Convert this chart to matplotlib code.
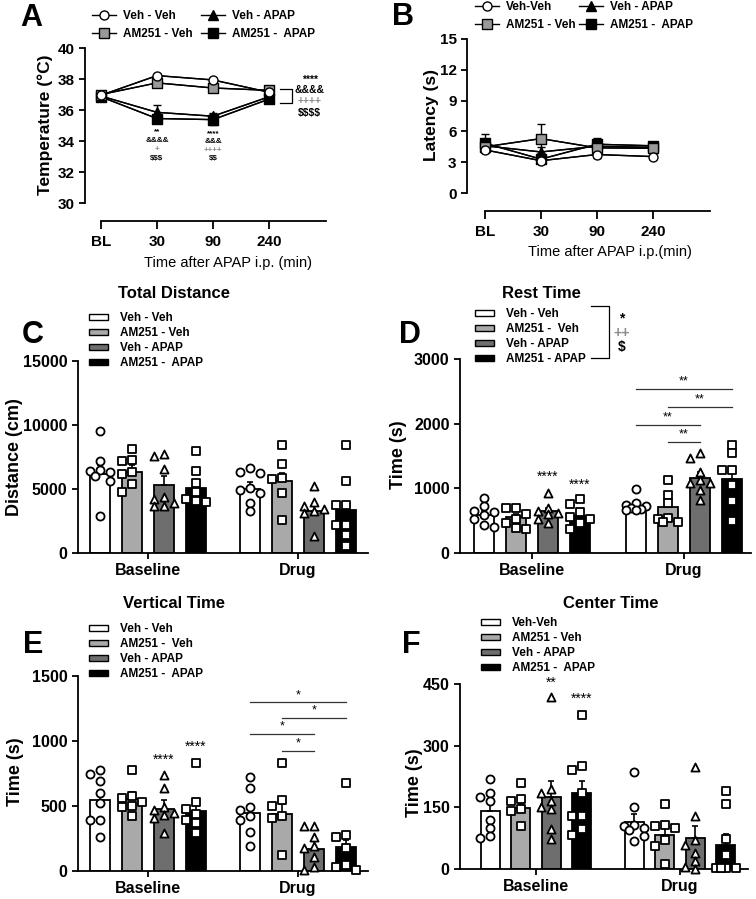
import matplotlib
matplotlib.use('Agg')
import matplotlib.pyplot as plt
import numpy as np
from matplotlib.patches import Patch
from matplotlib.lines import Line2D

plt.rcParams['font.family'] = ['Liberation Sans', 'DejaVu Sans']
plt.rcParams['font.weight'] = 'bold'
plt.rcParams['axes.linewidth'] = 1.3
plt.rcParams['xtick.major.width'] = 1.3
plt.rcParams['ytick.major.width'] = 1.3
plt.rcParams['text.parse_math'] = False

# ---------------- data ----------------
time_labels = ['BL', '30', '90', '240']
line_groups = ['Veh - Veh', 'AM251 - Veh', 'Veh - APAP', 'AM251 -  APAP']
line_groups_b = ['Veh-Veh', 'AM251 - Veh', 'Veh - APAP', 'AM251 -  APAP']

temp_vv = [36.95, 38.22, 37.94, 37.15]
temp_av = [37.00, 37.75, 37.42, 37.27]
temp_va = [36.90, 35.85, 35.60, 36.85]
temp_aa = [36.85, 35.45, 35.38, 36.70]
temp_sem_vv = [0.10, 0.10, 0.15, 0.10]
temp_sem_av = [0.10, 0.10, 0.10, 0.10]
temp_sem_va = [0.15, 0.45, 0.20, 0.15]
temp_sem_aa = [0.15, 0.20, 0.35, 0.15]

lat_vv = [4.2, 3.15, 3.75, 3.55]
lat_av = [4.5, 5.3, 4.4, 4.35]
lat_va = [4.6, 4.0, 4.55, 4.45]
lat_aa = [4.85, 3.3, 4.75, 4.6]
lat_sem_vv = [0.3, 0.2, 0.3, 0.2]
lat_sem_av = [0.3, 1.4, 0.3, 0.3]
lat_sem_va = [0.3, 0.5, 0.3, 0.3]
lat_sem_aa = [0.9, 0.3, 0.6, 0.3]

phase_labels = ['Baseline', 'Drug']
bar_groups_c = ['Veh - Veh', 'AM251 - Veh', 'Veh - APAP', 'AM251 -  APAP']
bar_groups_d = ['Veh - Veh', 'AM251 -  Veh', 'Veh - APAP', 'AM251 - APAP']
bar_groups_e = ['Veh - Veh', 'AM251 -  Veh', 'Veh - APAP', 'AM251 -  APAP']
bar_groups_f = ['Veh-Veh', 'AM251 - Veh', 'Veh - APAP', 'AM251 -  APAP']

# C: total distance (cm)
dist_mean_base = [6200, 6350, 5330, 5070]
dist_sem_base = [650, 490, 650, 500]
dist_mean_drug = [5020, 5590, 3250, 3380]
dist_sem_drug = [490, 650, 390, 520]
dist_pts_base = [[9500, 7200, 6500, 6400, 6300, 6000, 5600, 2900],
                 [8100, 7300, 7200, 6300, 6200, 5400, 4800],
                 [7700, 7600, 6600, 4400, 4200, 3900, 3700, 3700],
                 [8000, 6400, 5500, 4800, 4200, 4100, 4000]]
dist_pts_drug = [[6630, 6290, 6250, 5070, 4940, 4680, 3900, 3250],
                 [8400, 6970, 5850, 5800, 4680, 2600],
                 [5200, 4000, 3700, 3400, 3300, 3100, 1300],
                 [8450, 5590, 3770, 3770, 2210, 2210, 1430, 520]]

# D: rest time (s)
rest_mean_base = [592, 560, 643, 576]
rest_sem_base = [55, 50, 55, 55]
rest_mean_drug = [720, 710, 1158, 1148]
rest_sem_drug = [52, 90, 90, 140]
rest_pts_base = [[850, 720, 650, 640, 580, 520, 430, 400],
                 [700, 690, 600, 520, 470, 380, 370],
                 [930, 700, 650, 620, 600, 520, 460],
                 [830, 760, 630, 560, 520, 460, 370]]
rest_pts_drug = [[990, 780, 740, 720, 700, 680, 670, 660],
                 [1130, 900, 770, 540, 520, 480, 480],
                 [1540, 1470, 1260, 1130, 1080, 1080, 980, 820],
                 [1670, 1540, 1290, 1280, 1050, 800, 490]]
rest_sig = [(0, 3, 2542, '**'), (1, 3, 2265, '**'), (0, 2, 1981, '**'), (1, 2, 1714, '**')]

# E: vertical time (s)
vert_mean_base = [545, 552, 480, 460]
vert_sem_base = [70, 57, 65, 50]
vert_mean_drug = [447, 437, 172, 185]
vert_sem_drug = [64, 82, 64, 55]
vert_pts_base = [[780, 750, 690, 600, 520, 390, 390, 260],
                 [780, 580, 560, 530, 500, 490, 420],
                 [740, 640, 490, 470, 450, 430, 410, 290],
                 [830, 530, 480, 440, 390, 370, 290]]
vert_pts_drug = [[720, 640, 490, 470, 420, 390, 300, 190],
                 [830, 550, 500, 420, 410, 120],
                 [350, 350, 260, 190, 180, 110, 30, 10],
                 [680, 280, 260, 180, 50, 30, 10]]
vert_sig = [(0, 3, 1297, '*'), (1, 3, 1179, '*'), (0, 2, 1056, '*'), (1, 2, 922, '*')]

# F: center time (s)
cent_mean_base = [140, 148, 176, 184]
cent_sem_base = [20, 10, 37, 30]
cent_mean_drug = [114, 83, 75, 59]
cent_sem_drug = [20, 23, 29, 25]
cent_pts_base = [[220, 185, 175, 165, 120, 100, 80, 75],
                 [210, 170, 165, 145, 140, 105],
                 [418, 195, 185, 165, 150, 145, 97, 73],
                 [375, 250, 240, 185, 130, 130, 97, 83]]
cent_pts_drug = [[237, 152, 108, 104, 100, 95, 80, 67],
                 [158, 108, 105, 100, 70, 55, 11],
                 [247, 129, 70, 59, 40, 20, 5, 0],
                 [190, 158, 73, 35, 3, 3, 3, 2]]

# ---------------- styling ----------------
W, H = 756, 899
fig = plt.figure(figsize=(W / 100, H / 100), dpi=100)

def add_ax(l, t, r, b):
    return fig.add_axes([l / W, 1 - b / H, (r - l) / W, (b - t) / H])

def fx(px):
    return px / W

def fy(py):
    return 1 - py / H

def ax_frac(ax, px, py):
    bb = ax.get_position()
    return ((fx(px) - bb.x0) / bb.width, (fy(py) - bb.y0) / bb.height)

bar_colors = ['white', '#a9a9a9', '#6e6e6e', 'black']
pt_markers = ['o', 's', '^', 's']
line_colors = ['white', '#999999', 'black', 'black']
line_markers = ['o', 's', '^', 's']
plus_gray = '#8a8a8a'

def panel_letter(x, y, s):
    fig.text(fx(x), fy(y), s, fontsize=22, fontweight='bold', ha='center', va='center')

def style_axes(ax, lsize):
    for s in ['top', 'right']:
        ax.spines[s].set_visible(False)
    ax.tick_params(axis='both', direction='out', length=4, labelsize=lsize)

# ---------------- line panels ----------------
def line_panel(box, series, sems, ylim, ybounds, yticks, xlim, ylabel, ylabel_xy,
               xlabel, xlabel_xy, labels, leg_xy, colspace):
    ax = add_ax(*box)
    style_axes(ax, 11)
    x = np.arange(len(time_labels))
    handles = []
    for k in range(4):
        ax.errorbar(x, series[k], yerr=sems[k], color='black', lw=1.0, capsize=3,
                    elinewidth=1.0, capthick=1.0, zorder=2 + k, marker=None)
        ax.plot(x, series[k], color='black', lw=1.0, zorder=2 + k)
        ax.scatter(x, series[k], marker=line_markers[k], s=42 if line_markers[k] != '^' else 50,
                   facecolor=line_colors[k], edgecolor='black', linewidths=1.0, zorder=10 - k)
        handles.append(Line2D([0], [0], color='black', lw=1.0, marker=line_markers[k],
                              markerfacecolor=line_colors[k], markeredgecolor='black',
                              markersize=6.5))
    ax.set_xlim(*xlim)
    ax.set_ylim(*ylim)
    ax.spines['left'].set_bounds(*ybounds)
    ax.spines['bottom'].set_bounds(0, xlim[1])
    ax.set_yticks(yticks)
    ax.set_xticks(x)
    ax.set_xticklabels(time_labels, fontsize=11)
    ax.tick_params(axis='x', length=6, pad=4)
    for t in ax.get_yticklabels():
        t.set_fontweight('bold')
    ax.set_ylabel(ylabel, fontsize=12.5, fontweight='bold')
    ax.yaxis.set_label_coords(*ax_frac(ax, *ylabel_xy))
    ax.set_xlabel(xlabel, fontsize=10.5, fontweight='normal')
    ax.xaxis.set_label_coords(*ax_frac(ax, *xlabel_xy))
    ax.legend(handles, labels, ncol=2, loc='upper left', frameon=False,
              bbox_to_anchor=(fx(leg_xy[0]), fy(leg_xy[1])), bbox_transform=fig.transFigure,
              fontsize=8.5, handlelength=2.0, handletextpad=0.6, columnspacing=colspace,
              labelspacing=0.55, borderpad=0, borderaxespad=0)
    return ax

axA = line_panel((85, 48, 326, 221), [temp_vv, temp_av, temp_va, temp_aa],
                 [temp_sem_vv, temp_sem_av, temp_sem_va, temp_sem_aa],
                 (28.84, 40), (30, 40), [30, 32, 34, 36, 38, 40], (-0.286, 4.02),
                 'Temperature (°C)', (53, 125), 'Time after APAP i.p. (min)', (228, 256),
                 line_groups, (92, 10), 0.75)
panel_letter(31, 18, 'A')

# annotations on A
bx0, bx1 = 3.2, 3.41
axA.plot([bx0, bx1, bx1, bx0], [37.35, 37.35, 36.45, 36.45], color='black', lw=0.9, clip_on=False)
a_right = [('****', 37.94, 'black'), ('&&&&', 37.29, 'black'), ('++++', 36.58, plus_gray), ('$$$$', 35.8, 'black')]
for s, yv, c in a_right:
    axA.text(3.73, yv, s, ha='center', va='center', fontsize=7.5, color=c, fontweight='bold')
a_30 = [('**', 34.58, 'black'), ('&&&&', 34.06, 'black'), ('+', 33.48, plus_gray), ('$$$', 32.9, 'black')]
a_90 = [('****', 34.45, 'black'), ('&&&', 33.94, 'black'), ('++++', 33.38, plus_gray), ('$$', 32.84, 'black')]
for lst, xv in [(a_30, 1), (a_90, 2)]:
    for s, yv, c in lst:
        axA.text(xv, yv, s, ha='center', va='center', fontsize=5.9, color=c, fontweight='bold')

axB = line_panel((467, 39, 710, 211), [lat_vv, lat_av, lat_va, lat_aa],
                 [lat_sem_vv, lat_sem_av, lat_sem_va, lat_sem_aa],
                 (-1.75, 15), (0, 15), [0, 3, 6, 9, 12, 15], (-0.32, 4.02),
                 'Latency (s)', (439, 115), 'Time after APAP i.p.(min)', (610, 245),
                 line_groups_b, (475, 1), 0.35)
panel_letter(403, 17, 'B')

# ---------------- bar panels ----------------
offs = [-1.5, -0.5, 0.5, 1.5]

def swarm_offsets(vals, ax, diam_px=9.0, max_px=10.0):
    """GraphPad-like placement: keep points centred, shift sideways only when they collide."""
    bb = ax.get_position()
    x0, x1 = ax.get_xlim()
    y0, y1 = ax.get_ylim()
    pxx = bb.width * W / (x1 - x0)
    pxy = bb.height * H / (y1 - y0)
    order = np.argsort(vals)[::-1]
    placed = []
    res = np.zeros(len(vals))
    cands = [0.0, -max_px, max_px, -max_px / 2, max_px / 2]
    for i in order:
        yp = vals[i] * pxy
        best, best_d = 0.0, -1.0
        for c in cands:
            d = min([np.hypot(c - a, yp - b) for a, b in placed] + [1e9])
            if d >= diam_px * 0.9:
                best = c
                break
            if d > best_d:
                best, best_d = c, d
        placed.append((best, yp))
        res[i] = best / pxx
    return res

def bar_panel(box, drug_c, xlim, ylim, yticks, means, sems, pts, labels, title, title_xy,
              ylabel, ylabel_xy, leg_xy, sig=None, tops=None):
    ax = add_ax(*box)
    style_axes(ax, 11.5)
    ax.set_xlim(*xlim)
    ax.set_ylim(*ylim)
    centers = [0, drug_c]
    for gi in range(2):
        for k in range(4):
            xc = centers[gi] + offs[k]
            ax.bar(xc, means[gi][k], width=0.62, color=bar_colors[k], edgecolor='black',
                   linewidth=1.3, zorder=2)
            ax.errorbar(xc, means[gi][k], yerr=[[0], [sems[gi][k]]], color='black', capsize=2.5,
                        elinewidth=1.2, capthick=1.2, zorder=3)
            p = np.array(pts[gi][k], dtype=float)
            xs = xc + swarm_offsets(p, ax)
            ax.scatter(xs, p, marker=pt_markers[k], s=34, facecolor='white', edgecolor='black',
                       linewidths=1.3, zorder=4, clip_on=False)
    ax.set_yticks(yticks)
    ax.set_xticks(centers)
    ax.set_xticklabels(phase_labels, fontsize=11.5)
    for t in ax.get_yticklabels():
        t.set_fontweight('bold')
    ax.set_ylabel(ylabel, fontsize=13, fontweight='bold')
    ax.yaxis.set_label_coords(*ax_frac(ax, *ylabel_xy))
    fig.text(fx(title_xy[0]), fy(title_xy[1]), title, ha='center', va='center', fontsize=12,
             fontweight='bold')
    handles = [Patch(facecolor=bar_colors[k], edgecolor='black', linewidth=1.0) for k in range(4)]
    ax.legend(handles, labels, loc='upper left', frameon=False,
              bbox_to_anchor=(fx(leg_xy[0]), fy(leg_xy[1])), bbox_transform=fig.transFigure,
              fontsize=8.5, handlelength=1.6, handleheight=0.42, handletextpad=1.0,
              labelspacing=0.25, borderpad=0, borderaxespad=0)
    if sig:
        for a, b, yv, s in sig:
            x0 = drug_c + offs[a]
            x1 = drug_c + offs[b]
            ax.plot([x0, x1], [yv, yv], color='#333333', lw=0.9, zorder=3)
            ax.annotate(s, ((x0 + x1) / 2, yv), xytext=(0, 1), textcoords='offset points',
                        ha='center', va='bottom', fontsize=9, fontweight='normal')
    if tops:
        for k, yv, s in tops:
            ax.text(offs[k], yv, s, ha='center', va='center', fontsize=10, fontweight='normal')
    return ax

bar_panel((78, 361, 368, 553), 4.69, (-2.19, 6.875), (0, 15000), [0, 5000, 10000, 15000],
          [dist_mean_base, dist_mean_drug], [dist_sem_base, dist_sem_drug],
          [dist_pts_base, dist_pts_drug], bar_groups_c, 'Total Distance', (174, 293),
          'Distance (cm)', (23, 457), (89, 312))
panel_letter(33, 335, 'C')

axD = bar_panel((460, 359, 751, 553), 4.75, (-2.25, 6.84), (0, 3000), [0, 1000, 2000, 3000],
                [rest_mean_base, rest_mean_drug], [rest_sem_base, rest_sem_drug],
                [rest_pts_base, rest_pts_drug], bar_groups_d, 'Rest Time', (541, 293),
                'Time (s)', (407, 455), (475, 308), sig=rest_sig,
                tops=[(2, 1184, '****'), (3, 1055, '****')])
panel_letter(410, 335, 'D')
# bracket next to legend D
fig.add_artist(Line2D([fx(591), fx(609), fx(609), fx(591)], [fy(306), fy(306), fy(358), fy(358)],
                      color='black', lw=0.9))
for s, yy, c in [('*', 318, 'black'), ('++', 333, plus_gray), ('$', 347, 'black')]:
    fig.text(fx(622), fy(yy), s, ha='center', va='center', fontsize=10, color=c, fontweight='bold')

bar_panel((78, 676, 368, 871), 4.69, (-2.19, 6.875), (0, 1500), [0, 500, 1000, 1500],
          [vert_mean_base, vert_mean_drug], [vert_sem_base, vert_sem_drug],
          [vert_pts_base, vert_pts_drug], bar_groups_e, 'Vertical Time', (174, 603),
          'Time (s)', (24, 772), (89, 623), sig=vert_sig,
          tops=[(2, 853, '****'), (3, 955, '****')])
panel_letter(33, 645, 'E')

bar_panel((460, 684, 748, 869), 4.72, (-2.49, 6.95), (0, 450), [0, 150, 300, 450],
          [cent_mean_base, cent_mean_drug], [cent_sem_base, cent_sem_drug],
          [cent_pts_base, cent_pts_drug], bar_groups_f, 'Center Time', (611, 603),
          'Time (s)', (423, 783), (481, 617),
          tops=[(2, 453, '**'), (3, 413, '****')])
panel_letter(411, 645, 'F')

fig.savefig('out.png', dpi=100)
